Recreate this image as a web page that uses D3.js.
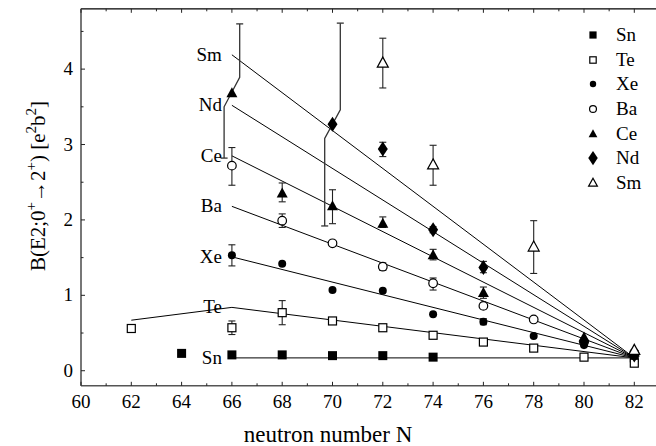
<!DOCTYPE html>
<html>
<head>
<meta charset="utf-8">
<script src="https://cdn.jsdelivr.net/npm/d3@7/dist/d3.min.js"></script>
<style>
  html, body { margin: 0; padding: 0; background: #fff; }
  svg { display: block; }
  svg text { font-family: "Liberation Serif", "DejaVu Serif", "Noto Serif", "Times New Roman", Times, serif !important; }
</style>
</head>
<body>
<svg id="chart" width="656" height="446"></svg>
<script>
// ---------------- data ----------------
const elements = ["Sn", "Te", "Xe", "Ba", "Ce", "Nd", "Sm"];
const xTicks = [60, 62, 64, 66, 68, 70, 72, 74, 76, 78, 80, 82];
const yTicks = [0, 1, 2, 3, 4];

// [N, value, errLow, errHigh] (no error bar when only two entries)
const snData = [[64, 0.23], [66, 0.21], [68, 0.21], [70, 0.20], [72, 0.20], [74, 0.18], [82, 0.17]];
const teData = [[62, 0.56], [66, 0.57, 0.48, 0.66], [68, 0.77, 0.61, 0.93], [70, 0.66], [72, 0.57], [74, 0.47], [76, 0.38], [78, 0.30], [80, 0.18], [82, 0.10]];
const xeData = [[66, 1.53, 1.39, 1.67], [68, 1.42], [70, 1.07], [72, 1.06], [74, 0.75], [76, 0.65, 0.61, 0.69], [78, 0.46], [80, 0.34], [82, 0.20]];
const baData = [[66, 2.72, 2.46, 2.96], [68, 1.99, 1.90, 2.08], [70, 1.69], [72, 1.38, 1.33, 1.43], [74, 1.16, 1.07, 1.23], [76, 0.86, 0.82, 0.90], [78, 0.68], [80, 0.38], [82, 0.24]];
const ceData = [[66, 3.68], [68, 2.35, 2.24, 2.49], [70, 2.18, 1.95, 2.40], [72, 1.95, 1.90, 2.04], [74, 1.53, 1.47, 1.61], [76, 1.03, 0.96, 1.11], [80, 0.44], [82, 0.24]];
const ndData = [[70, 3.27], [72, 2.94, 2.84, 3.03], [74, 1.87, 1.83, 1.91], [76, 1.37, 1.30, 1.45], [80, 0.38], [82, 0.21]];
const smData = [[72, 4.08, 3.75, 4.41], [74, 2.73, 2.46, 2.99], [78, 1.64, 1.29, 1.99], [82, 0.27]];

// bent (displaced) error bars: N, lower end, lower knee, upper knee, upper end
const bentBars = [[66, 2.82, 3.50, 3.89, 4.60], [70, 1.92, 3.08, 3.46, 4.61]];

// systematics lines
const lineLabels = ["Sm", "Nd", "Ce", "Ba", "Xe", "Te", "Sn"];
const lineStart = [4.19, 3.52, 2.85, 2.18, 1.51, 0.84, 0.17];
const lineStartN = 66;
const lineEndN = 82;
const lineEndValue = 0.17;
const teExtra = [62, 0.67];

// ---------------- layout ----------------
const svg = d3.select("#chart");
const x = d3.scaleLinear().domain([60, 83]).range([81, 81 + 23 * 25.15]);
const y = d3.scaleLinear().domain([-0.2, 4.8]).range([385.8, 8.8]);

const g = svg.append("g");
const FS = 18;

// frame
g.append("line").attr("x1", x(60)).attr("x2", 656).attr("y1", y(4.8)).attr("y2", y(4.8))
  .attr("stroke", "#000").attr("stroke-width", 1.2);
g.append("line").attr("x1", x(60)).attr("x2", 656).attr("y1", y(-0.2)).attr("y2", y(-0.2))
  .attr("stroke", "#555").attr("stroke-width", 1.6);
g.append("line").attr("x1", x(60)).attr("x2", x(60)).attr("y1", y(-0.2)).attr("y2", y(4.8))
  .attr("stroke", "#555").attr("stroke-width", 1.6);

// bottom/top ticks (inward)
d3.range(60, 83, 1).forEach(n => {
  const len = (n % 2 === 0) ? 4 : 2.5;
  g.append("line").attr("x1", x(n)).attr("x2", x(n)).attr("y1", y(-0.2)).attr("y2", y(-0.2) - len)
    .attr("stroke", "#222").attr("stroke-width", 1);
  g.append("line").attr("x1", x(n)).attr("x2", x(n)).attr("y1", y(4.8)).attr("y2", y(4.8) + len)
    .attr("stroke", "#222").attr("stroke-width", 1);
});
xTicks.forEach(n => {
  g.append("text").attr("x", x(n)).attr("y", 408).attr("text-anchor", "middle")
    .attr("font-size", FS + 1).text(n);
});
// left ticks
d3.range(0, 4.8, 0.5).forEach(v => {
  const len = (Math.abs(v - Math.round(v)) < 1e-6) ? 4 : 2.5;
  g.append("line").attr("x1", x(60)).attr("x2", x(60) + len).attr("y1", y(v)).attr("y2", y(v))
    .attr("stroke", "#222").attr("stroke-width", 1);
});
yTicks.forEach(v => {
  g.append("text").attr("x", 73).attr("y", y(v) + 6).attr("text-anchor", "end")
    .attr("font-size", FS + 1).text(v);
});

// axis titles
g.append("text").attr("x", 328).attr("y", 442).attr("text-anchor", "middle")
  .attr("font-size", 23).text("neutron number N");

const yt = g.append("text").attr("transform", "translate(45,186) rotate(-90)")
  .attr("text-anchor", "middle").attr("font-size", 21);
yt.append("tspan").text("B(E2;0");
yt.append("tspan").attr("dy", -9).attr("font-size", 15).text("+");
yt.append("tspan").attr("dy", 9).text("→2");
yt.append("tspan").attr("dy", -9).attr("font-size", 15).text("+");
yt.append("tspan").attr("dy", 9).text(") [e");
yt.append("tspan").attr("dy", -9).attr("font-size", 15).text("2");
yt.append("tspan").attr("dy", 9).text("b");
yt.append("tspan").attr("dy", -9).attr("font-size", 15).text("2");
yt.append("tspan").attr("dy", 9).text("]");

// systematics lines
const lineGen = d3.line().x(d => x(d[0])).y(d => y(d[1]));
lineLabels.forEach((lab, i) => {
  let pts = [[lineStartN, lineStart[i]], [lineEndN, lineEndValue]];
  if (lab === "Te") pts = [teExtra].concat(pts);
  g.append("path").attr("d", lineGen(pts)).attr("fill", "none")
    .attr("stroke", "#000").attr("stroke-width", 1);
  g.append("text").attr("x", x(lineStartN) - 10).attr("y", y(lineStart[i]) + 6)
    .attr("text-anchor", "end").attr("font-size", FS + 1).text(lab);
});

// bent error bars
const dN = 0.31;
bentBars.forEach(b => {
  const [n, lo, k1, k2, hi] = b;
  const pts = [[n - dN, lo], [n - dN, k1], [n + dN, k2], [n + dN, hi]];
  g.append("path").attr("d", lineGen(pts)).attr("fill", "none")
    .attr("stroke", "#333").attr("stroke-width", 1.3);
  [[n - dN, lo], [n + dN, hi]].forEach(c => {
    g.append("line").attr("x1", x(c[0]) - 3.5).attr("x2", x(c[0]) + 3.5)
      .attr("y1", y(c[1])).attr("y2", y(c[1])).attr("stroke", "#333").attr("stroke-width", 1.3);
  });
});

// symbols
function drawSymbol(sel, type, cx, cy, s) {
  if (type === "Sn") {
    const a = 9 * s;
    sel.append("rect").attr("x", cx - a / 2).attr("y", cy - a / 2).attr("width", a).attr("height", a).attr("fill", "#000");
  } else if (type === "Te") {
    const a = 8 * s;
    sel.append("rect").attr("x", cx - a / 2).attr("y", cy - a / 2).attr("width", a).attr("height", a)
      .attr("fill", "#fff").attr("stroke", "#000").attr("stroke-width", 1.2);
  } else if (type === "Xe") {
    sel.append("circle").attr("cx", cx).attr("cy", cy).attr("r", 4 * s).attr("fill", "#000");
  } else if (type === "Ba") {
    sel.append("circle").attr("cx", cx).attr("cy", cy).attr("r", 4.3 * s)
      .attr("fill", "#fff").attr("stroke", "#000").attr("stroke-width", 1.2);
  } else if (type === "Ce" || type === "Sm") {
    const w = 11 * s, h = 10 * s;
    const p = `M${cx},${cy - h * 0.6}L${cx + w / 2},${cy + h * 0.4}L${cx - w / 2},${cy + h * 0.4}Z`;
    if (type === "Ce") sel.append("path").attr("d", p).attr("fill", "#000");
    else sel.append("path").attr("d", p).attr("fill", "#fff").attr("stroke", "#000").attr("stroke-width", 1.2);
  } else if (type === "Nd") {
    const w = 10 * s, h = 15 * s;
    sel.append("path").attr("d", `M${cx},${cy - h / 2}L${cx + w / 2},${cy}L${cx},${cy + h / 2}L${cx - w / 2},${cy}Z`).attr("fill", "#000");
  }
}

function drawSeries(type, data) {
  const sg = g.append("g");
  data.forEach(d => {
    if (d.length > 2) {
      const [n, v, lo, hi] = d;
      sg.append("line").attr("x1", x(n)).attr("x2", x(n)).attr("y1", y(lo)).attr("y2", y(hi))
        .attr("stroke", "#222").attr("stroke-width", 1.1);
      [lo, hi].forEach(e => {
        sg.append("line").attr("x1", x(n) - 3.5).attr("x2", x(n) + 3.5).attr("y1", y(e)).attr("y2", y(e))
          .attr("stroke", "#222").attr("stroke-width", 1.1);
      });
    }
  });
  data.forEach(d => drawSymbol(sg, type, x(d[0]), y(d[1]), 1));
}

drawSeries("Sn", snData);
drawSeries("Te", teData);
drawSeries("Xe", xeData);
drawSeries("Ba", baData);
drawSeries("Ce", ceData);
drawSeries("Nd", ndData);
drawSeries("Sm", smData);

// legend
const legendY = [35, 60, 84, 109, 134, 158, 183];
const legendScale = [0.8, 0.8, 0.8, 0.8, 0.8, 0.95, 0.8];
elements.forEach((el, i) => {
  drawSymbol(g, el, 593, legendY[i], legendScale[i]);
  g.append("text").attr("x", 616).attr("y", legendY[i] + 6).attr("font-size", FS + 1).text(el);
});
</script>
</body>
</html>
